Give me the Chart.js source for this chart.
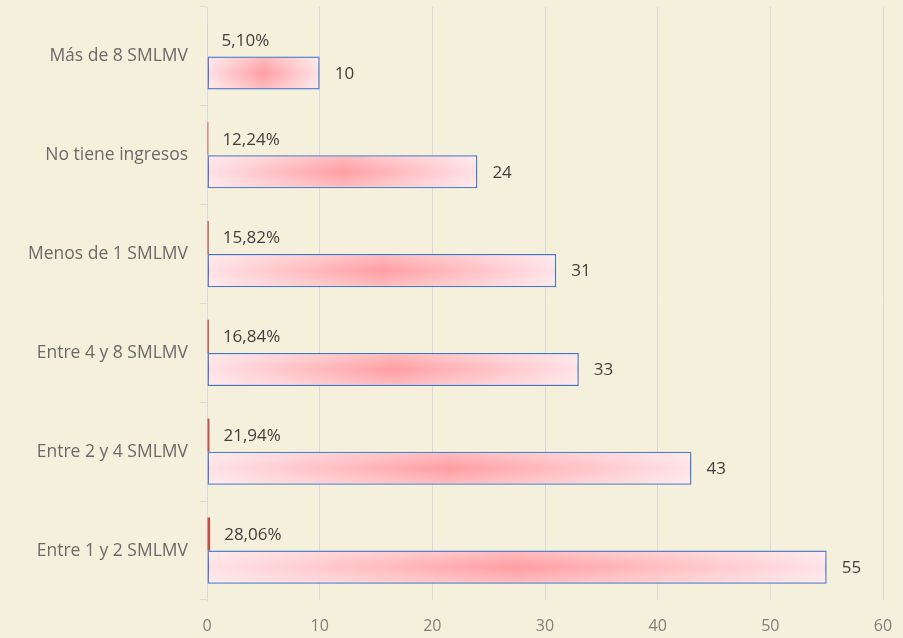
<!DOCTYPE html>
<html>
<head>
<meta charset="utf-8">
<script src="https://cdn.jsdelivr.net/npm/chart.js@4.4.1/dist/chart.umd.min.js"></script>
<style>
  html, body { margin: 0; padding: 0; background: #F5F0DC; }
  #wrap { width: 903px; height: 638px; position: relative; }
</style>
</head>
<body>
<div id="wrap"><canvas id="ingresosChart"></canvas></div>
<script>
// categorias de arriba hacia abajo
var categorias = ['Más de 8 SMLMV', 'No tiene ingresos', 'Menos de 1 SMLMV', 'Entre 4 y 8 SMLMV', 'Entre 2 y 4 SMLMV', 'Entre 1 y 2 SMLMV'];
var cantidades = [10, 24, 31, 33, 43, 55];
var porcentajes = [5.10, 12.24, 15.82, 16.84, 21.94, 28.06];
var ticksX = [0, 10, 20, 30, 40, 50, 60];

var FONT = '"Open Sans", sans-serif';

function fmtPct(v) {
    return v.toFixed(2).replace('.', ',') + '%';
}

// gradiente horizontal (claro-oscuro-claro) para las barras de cantidad
function fondoBarra(c) {
    var chart = c.chart;
    var xs = chart.scales.x;
    if (!xs || c.raw === undefined) return '#FFB3B8';
    var x0 = xs.getPixelForValue(0);
    var x1 = xs.getPixelForValue(c.raw);
    if (!isFinite(x0) || !isFinite(x1) || x1 <= x0) return '#FFB3B8';
    var g = chart.ctx.createLinearGradient(x0, 0, x1, 0);
    g.addColorStop(0, '#FFE2E6');
    g.addColorStop(0.5, '#FF9EA2');
    g.addColorStop(1, '#FFE2E6');
    return g;
}

var etiquetasPlugin = {
    id: 'etiquetas',
    afterDatasetsDraw: function(chart) {
        var ctx = chart.ctx;
        // suavizar bordes superior / inferior de las barras de cantidad
        var meta1 = chart.getDatasetMeta(1);
        meta1.data.forEach(function(bar) {
            var top = bar.y - bar.height / 2 + 1;
            var bot = bar.y + bar.height / 2 - 1;
            var g = ctx.createLinearGradient(0, top, 0, bot);
            g.addColorStop(0, 'rgba(255,255,255,0.3)');
            g.addColorStop(0.5, 'rgba(255,255,255,0)');
            g.addColorStop(1, 'rgba(255,255,255,0.3)');
            ctx.save();
            ctx.fillStyle = g;
            ctx.fillRect(bar.base + 1, top, bar.x - bar.base - 2, bot - top);
            ctx.restore();
        });

        ctx.save();
        ctx.font = '17px ' + FONT;
        ctx.fillStyle = '#404040';
        ctx.textBaseline = 'middle';
        ctx.textAlign = 'left';
        var meta0 = chart.getDatasetMeta(0);
        meta0.data.forEach(function(bar, i) {
            ctx.fillText(fmtPct(porcentajes[i]), bar.x + 14, bar.y + 1);
        });
        meta1.data.forEach(function(bar, i) {
            ctx.fillText(String(cantidades[i]), bar.x + 15, bar.y + 1);
        });
        ctx.restore();
    }
};

var ctx = document.getElementById('ingresosChart').getContext('2d');
var chart = new Chart(ctx, {
    type: 'bar',
    data: {
        labels: categorias,
        datasets: [{
            label: 'Porcentaje',
            data: porcentajes.map(function(p) { return p / 100; }),
            backgroundColor: '#C0504D',
            borderColor: '#C0504D',
            borderWidth: 0,
            categoryPercentage: 0.67,
            barPercentage: 1.0
        }, {
            label: 'Cantidad',
            data: cantidades,
            backgroundColor: fondoBarra,
            borderColor: '#4472C4',
            borderWidth: 1.5,
            borderSkipped: false,
            categoryPercentage: 0.67,
            barPercentage: 1.0
        }]
    },
    options: {
        indexAxis: 'y',
        responsive: true,
        maintainAspectRatio: false,
        animation: false,
        layout: {
            padding: { top: 7, right: 20, bottom: 0, left: 0 }
        },
        scales: {
            x: {
                min: 0,
                max: 60,
                afterBuildTicks: function(scale) {
                    scale.ticks = ticksX.map(function(v) { return { value: v }; });
                },
                afterFit: function(scale) {
                    scale.height = 38;
                    scale.paddingLeft = 0;
                    scale.paddingRight = 0;
                },
                grid: {
                    color: '#D9D9D9',
                    lineWidth: 1,
                    drawTicks: false
                },
                border: { display: false },
                ticks: {
                    color: '#7F7F7F',
                    padding: 17,
                    font: { family: FONT, size: 16 }
                }
            },
            y: {
                afterFit: function(scale) {
                    scale.width = 207;
                    scale.paddingTop = 0;
                    scale.paddingBottom = 0;
                },
                grid: {
                    offset: true,
                    drawOnChartArea: false,
                    color: '#D9D9D9',
                    tickLength: 7
                },
                border: { display: true, color: '#D9D9D9', width: 1 },
                ticks: {
                    color: '#6A6A6A',
                    padding: 12,
                    font: { family: FONT, size: 17.5 }
                }
            }
        },
        plugins: {
            legend: { display: false },
            tooltip: { enabled: false }
        }
    },
    plugins: [etiquetasPlugin]
});
</script>
</body>
</html>
